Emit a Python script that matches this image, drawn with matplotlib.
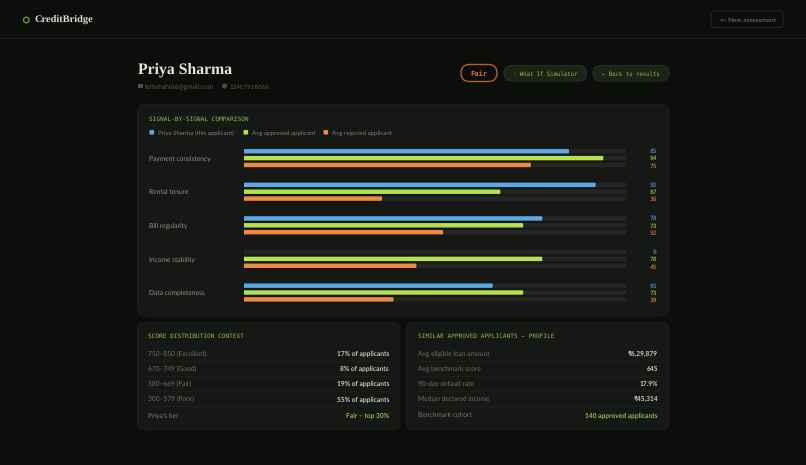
import matplotlib
matplotlib.use("Agg")
import matplotlib.pyplot as plt
from matplotlib.patches import FancyBboxPatch, Circle, Rectangle

plt.rcParams["text.hinting"] = "no_hinting"
plt.rcParams["text.hinting_factor"] = 8

W, H = 806, 465
signals = ["Payment consistency", "Rental tenure", "Bill regularity", "Income stability", "Data completeness"]
applicant = [85, 92, 78, 0, 65]
approved = [94, 67, 73, 78, 73]
rejected = [75, 36, 52, 45, 39]
legend_labels = ["Priya Sharma (this applicant)", "Avg approved applicant", "Avg rejected applicant"]
dist_labels = ["750–850 (Excellent)", "670–749 (Good)", "580–669 (Fair)", "300–579 (Poor)", "Priya's tier"]
dist_values = ["17% of applicants", "8% of applicants", "19% of applicants", "55% of applicants", "Fair – top 30%"]
peer_labels = ["Avg eligible loan amount", "Avg benchmark score", "90-day default rate", "Median declared income", "Benchmark cohort"]
peer_values = ["₹6,29,879", "645", "17.9%", "₹45,314", "140 approved applicants"]

BG = "#0c0e0b"; CARD = "#161815"; TRACK = "#242624"; LINE = "#1e211d"
BLUE = "#5aa9e6"; GREEN = "#b5e24f"; ORANGE = "#ee8a45"
SANS = ["Lato", "DejaVu Sans"]; SERIF = "Liberation Serif"; MONO = "DejaVu Sans Mono"

fig = plt.figure(figsize=(W / 100, H / 100), dpi=100, facecolor=BG)
bg = fig.add_axes([0, 0, 1, 1])
bg.set_xlim(0, W); bg.set_ylim(H, 0); bg.axis("off")


def px(v):
    return v * 0.72


def box(x0, y0, x1, y1, r, fc, ec="none", lw=0.0, z=1):
    bg.add_patch(FancyBboxPatch((x0 + r, y0 + r), x1 - x0 - 2 * r, y1 - y0 - 2 * r,
                                boxstyle=f"round,pad={r},rounding_size={r}", fc=fc, ec=ec, lw=lw, zorder=z))


def text(x, y, s, size, color, family=SANS, weight="normal", ha="left"):
    bg.text(x, y, s, fontsize=px(size), color=color, family=family, weight=weight,
            ha=ha, va="center_baseline", zorder=5)


# header
bg.plot([0, W], [38, 38], color="#171a16", lw=0.8)
bg.add_patch(Circle((26.3, 20), 2.8, fc="none", ec="#6f9130", lw=1.0))
text(34.5, 19.5, "CreditBridge", 10.4, "#dcdcd5", SERIF, "bold")
box(711, 11, 783, 27.5, 3, BG, "#1f221e", 0.8)
text(720, 19.5, "← New assessment", 6.5, "#77796f")

# applicant heading
text(137.5, 68, "Priya Sharma", 15.8, "#e6e6de", SERIF, "bold")
bg.add_patch(Rectangle((138, 84.5), 5, 3.5, fc="#4c4e47"))
text(145, 86.5, "kritishahi66@gmail.com", 6.6, "#55574f")
bg.add_patch(Circle((224.5, 86), 2.5, fc="#4c4e47"))
text(229, 86.5, "12407918666", 6.3, "#55574f")
box(461, 64.5, 497, 81.5, 8.5, BG, "#b2622a", 1.0)
text(479, 73.3, "Fair", 7.2, "#d9752f", MONO, "bold", ha="center")
box(504, 65.5, 586.5, 81, 7.7, "#1b2416", "#263320", 0.7)
text(545, 73.3, "◦ What If Simulator", 5.7, "#93b752", MONO, ha="center")
box(593, 65.5, 669, 81, 7.7, "#1b2416", "#263320", 0.7)
text(631, 73.3, "← Back to results", 5.7, "#93b752", MONO, ha="center")

# main card
box(137.5, 104.5, 669, 316, 8, CARD, "#1c1f1b", 0.7)
text(149, 118.5, "SIGNAL-BY-SIGNAL COMPARISON", 6.2, "#93b752", MONO)
for x, c, lab in zip([149.5, 243.5, 323.5], [BLUE, GREEN, ORANGE], legend_labels):
    box(x, 130, x + 4.6, 134.6, 1, c, z=3)
    text(x + 8, 132.3, lab, 6.2, "#7d7f76")

# bars: one data unit on y is one signal group
ax = fig.add_axes([244 / W, 1 - 309.3 / H, 381.5 / W, 168 / H])
ax.set_xlim(0, 100); ax.set_ylim(4.5, -0.5); ax.axis("off"); ax.patch.set_alpha(0)
gap, height = 0.204, 0.09
for off, vals, col in zip([-gap, 0, gap], [applicant, approved, rejected], [BLUE, GREEN, ORANGE]):
    ys = [i + off for i in range(len(signals))]
    ax.barh(ys, [100] * len(ys), height=height, color=TRACK, edgecolor=TRACK, linewidth=1.0,
            joinstyle="round", zorder=1, snap=False)
    ax.barh(ys, vals, height=height, color=col, edgecolor=[col if v else "none" for v in vals],
            linewidth=1.0, joinstyle="round", zorder=2, snap=False)
    for i, v in enumerate(vals):
        ax.text(108.2, i + off * 1.07, str(v), fontsize=px(6.3), color=col, alpha=0.7, family=MONO,
                weight="bold", ha="right", va="center_baseline", clip_on=False)
for i, s in enumerate(signals):
    text(149, 158.0 + 33.6 * i, s, 6.7, "#8f9187")

# lower cards
for x0, x1, title, labs, vals in [(137.5, 400, "SCORE DISTRIBUTION CONTEXT", dist_labels, dist_values),
                                  (406.5, 669, "SIMILAR APPROVED APPLICANTS – PROFILE", peer_labels, peer_values)]:
    box(x0, 322.5, x1, 430, 7, CARD, "#1c1f1b", 0.7)
    text(x0 + 11, 336, title, 6.2, "#93b752", MONO)
    for i, (a, b) in enumerate(zip(labs, vals)):
        y = [353.2, 368.5, 383.7, 398.8, 414.8][i]
        last = i == len(labs) - 1
        text(x0 + 11, y, a, 6.6, "#6c6e66" if not last else "#77796f")
        text(x1 - 11, y, b, 6.7, "#93ba48" if last else "#c8c8c0", weight="bold", ha="right")
        if not last:
            bg.plot([x0 + 11, x1 - 11], [y + 7.5, y + 7.5], color="#1e211d", lw=0.6, zorder=2)

fig.savefig("out.png", dpi=100, facecolor=BG)
